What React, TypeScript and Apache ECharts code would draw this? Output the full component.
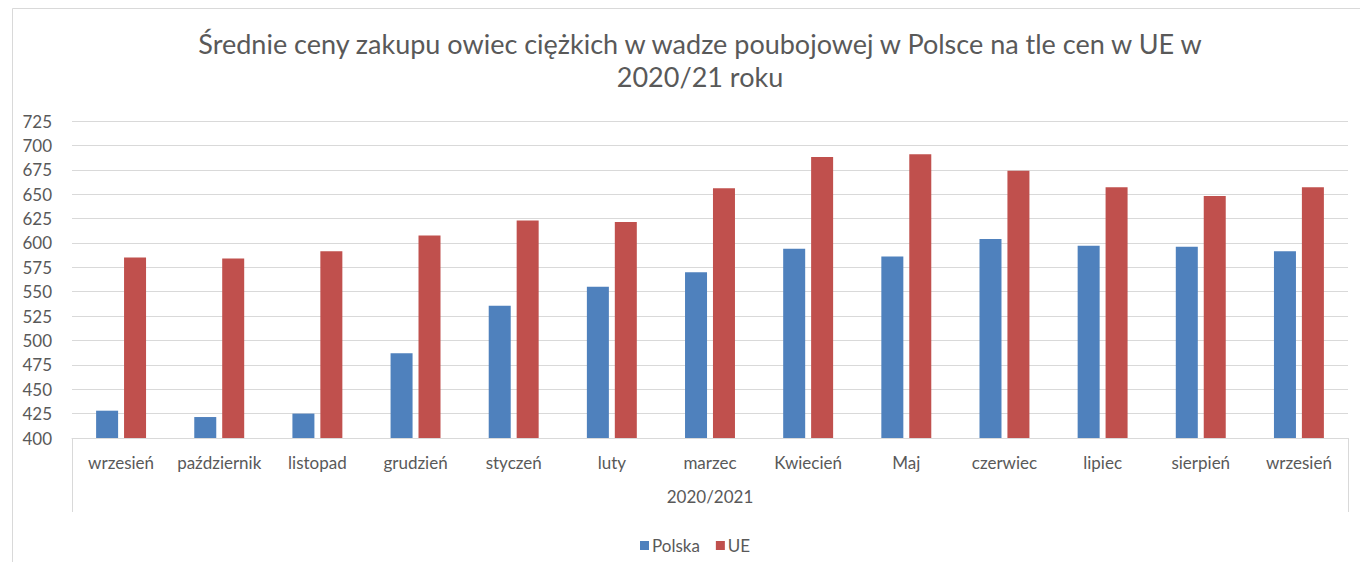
import React, { useEffect, useRef } from "react";
import * as echarts from "echarts";

const categories = [
  "wrzesień", "październik", "listopad", "grudzień", "styczeń", "luty", "marzec",
  "Kwiecień", "Maj", "czerwiec", "lipiec", "sierpień", "wrzesień",
];
const groupLabel = ["2020/2021"];
const polska = [428, 421.5, 425, 487, 535.5, 555, 570, 594, 586, 604, 597, 596, 591.5];
const ue = [585, 584, 591.5, 607.5, 623, 621.5, 656, 688, 691, 674, 657, 648, 657];
const titleText = "Średnie ceny zakupu owiec ciężkich w wadze poubojowej w Polsce na tle cen w UE w\n2020/21 roku";

const FONT = "Lato, 'Liberation Sans', sans-serif";
const TXT = "#595959";
const GRID = "#d9d9d9";

export default function App() {
  const ref = useRef<HTMLDivElement>(null);
  useEffect(() => {
    document.body.style.margin = "0";
    const chart = echarts.init(ref.current!, null, { renderer: "svg" });
    chart.setOption({
      animation: false,
      backgroundColor: "#ffffff",
      textStyle: { fontFamily: FONT },
      graphic: [
        {
          type: "rect",
          shape: { x: 12.5, y: 8.5, width: 1400, height: 600 },
          style: { fill: "none", stroke: GRID, lineWidth: 1 },
          silent: true,
          z: -1,
        },
      ],
      title: {
        text: titleText,
        left: 695,
        top: 22,
        textAlign: "center",
        textStyle: {
          fontFamily: FONT,
          fontSize: 27,
          fontWeight: "normal",
          color: TXT,
          lineHeight: 33,
        },
      },
      legend: {
        data: ["Polska", "UE"],
        left: 635,
        top: 532,
        icon: "rect",
        itemWidth: 9,
        itemHeight: 9,
        itemGap: 16,
        textStyle: { fontFamily: FONT, fontSize: 17, color: TXT, padding: [0, 0, 0, -2] },
      },
      grid: { left: 72, right: 12, top: 121, bottom: 124, containLabel: false },
      xAxis: [
        {
          type: "category",
          data: categories,
          position: "bottom",
          axisLine: { show: true, lineStyle: { color: GRID } },
          axisTick: { show: false },
          axisLabel: { color: TXT, fontSize: 17, fontFamily: FONT, margin: 16, interval: 0 },
        },
        {
          type: "category",
          data: groupLabel,
          position: "bottom",
          axisLine: { show: false },
          axisTick: { show: true, length: 74, lineStyle: { color: GRID } },
          axisLabel: { color: TXT, fontSize: 17, fontFamily: FONT, margin: 50 },
          splitLine: { show: false },
        },
      ],
      yAxis: {
        type: "value",
        min: 400,
        max: 725,
        interval: 25,
        axisLine: { show: false },
        axisTick: { show: false },
        axisLabel: { color: TXT, fontSize: 17, fontFamily: FONT, margin: 20 },
        splitLine: { lineStyle: { color: GRID, width: 1 } },
      },
      series: [
        {
          name: "Polska",
          type: "bar",
          data: polska,
          barWidth: 22,
          barGap: "27%",
          itemStyle: { color: "#4f81bd" },
        },
        {
          name: "UE",
          type: "bar",
          data: ue,
          barWidth: 22,
          barGap: "27%",
          itemStyle: { color: "#c0504d" },
        },
      ],
    });
    return () => chart.dispose();
  }, []);
  return <div ref={ref} style={{ width: 1360, height: 562 }} />;
}
